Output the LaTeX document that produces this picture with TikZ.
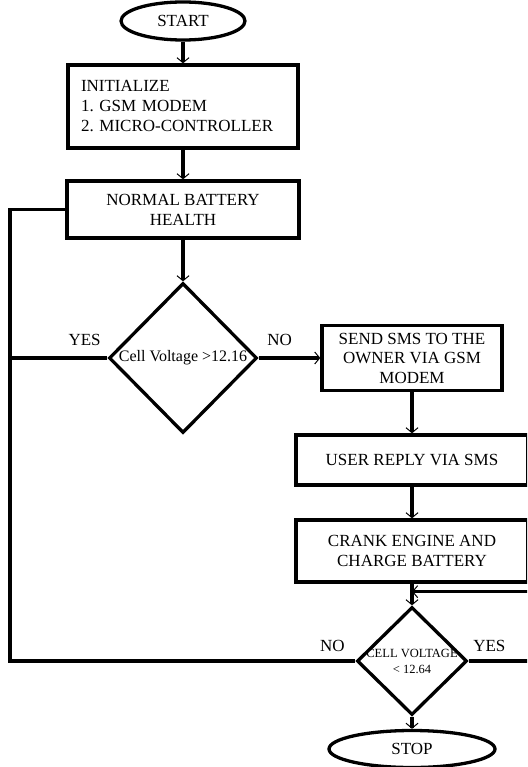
\documentclass[tikz,border=0pt]{standalone}
\usepackage{fontspec}
\setmainfont{Liberation Serif}
\frenchspacing
\usetikzlibrary{shapes.geometric,positioning,arrows.meta}

\begin{document}
\begin{tikzpicture}[%
    x=1pt, y=1pt,               % one unit is one pixel of the page
    >={Straight Barb[length=5pt,width=12pt,line width=1pt]}, % thin open tips
    node distance=20pt,         % Global setup of box spacing
    line width=3.3pt,           % heavy strokes everywhere
    font=\fontsize{17}{20}\selectfont,
    ]
\tikzset{
  base/.style={draw, on grid, align=center, line width=3.3pt},
  proc/.style={base, rectangle, minimum width=232pt},
  test/.style={base, diamond, inner sep=0pt},
  term/.style={base, ellipse, minimum height=38pt},
  lbl/.style={inner sep=2pt},
}

\useasboundingbox (0,0) rectangle (527,-767);
\clip (0,0) rectangle (527,-767);

\node [term, minimum width=124pt] (p0) at (183,-21) {START};
\node [proc, below=85.5pt of p0, minimum width=0pt, text width=204pt,
       inner xsep=13pt, minimum height=83pt, align=left] (p1)
      {INITIALIZE\\1. GSM MODEM\\2. MICRO-CONTROLLER};
\node [proc, below=103pt of p1, minimum height=57pt] (p2) {NORMAL BATTERY\\HEALTH};
\node [test, below=148.5pt of p2, minimum width=148pt, minimum height=150pt,
       font=\fontsize{16}{19}\selectfont] (p3) {Cell Voltage >12.16};

\node [proc, right=229pt of p3, minimum width=180pt, minimum height=65pt,
       font=\fontsize{17}{19.5}\selectfont] (p4) {SEND SMS TO THE\\OWNER VIA GSM\\MODEM};
\node [proc, below=102pt of p4, minimum height=50pt] (p5) {USER REPLY VIA SMS};
\node [proc, below=91pt of p5, minimum height=62pt] (p6) {CRANK ENGINE AND\\CHARGE BATTERY};
\node [test, below=110pt of p6, minimum width=110pt, minimum height=108pt,
       inner sep=-6pt, font=\fontsize{12.5}{16}\selectfont] (p7) {CELL VOLTAGE\\< 12.64};
\node [term, below=88pt of p7, minimum width=166pt, minimum height=37pt] (p8) {STOP};

\coordinate (lft) at (10,-209.5);
\coordinate (fb) at ([yshift=-8pt]p6.south);

%connect
\draw [->] (p0.south) -- (p1.north);
\draw [->] (p1.south) -- (p2.north);
\draw [->] (p2.south) -- (p3.north);
\draw (p3.west) -- node [lbl, pos=0, anchor=south east, yshift=9pt, xshift=-3pt] (yes1) {YES} (p3.west -| lft);
\draw [->] (p3.east) -- node [lbl, pos=0, anchor=south west, yshift=9pt, xshift=5pt] (no1) {NO} (p4.west);
\draw [->] (p4.south) -- (p5.north);
\draw [->] (p5.south) -- (p6.north);
\draw [->] (p6.south) -- (p7.north);
\draw [->] (p7.east) -- node [lbl, pos=0, anchor=south west, yshift=6pt, xshift=1pt] (yes2) {YES}
  ++(80,0) |- (fb);
\draw (p2.west) -- (lft) |- node [lbl, pos=1, anchor=south east, yshift=6pt, xshift=-7pt] (no2) {NO} (p7.west);
\draw [->] (p7.south) -- (p8.north);

\end{tikzpicture}
\end{document}
